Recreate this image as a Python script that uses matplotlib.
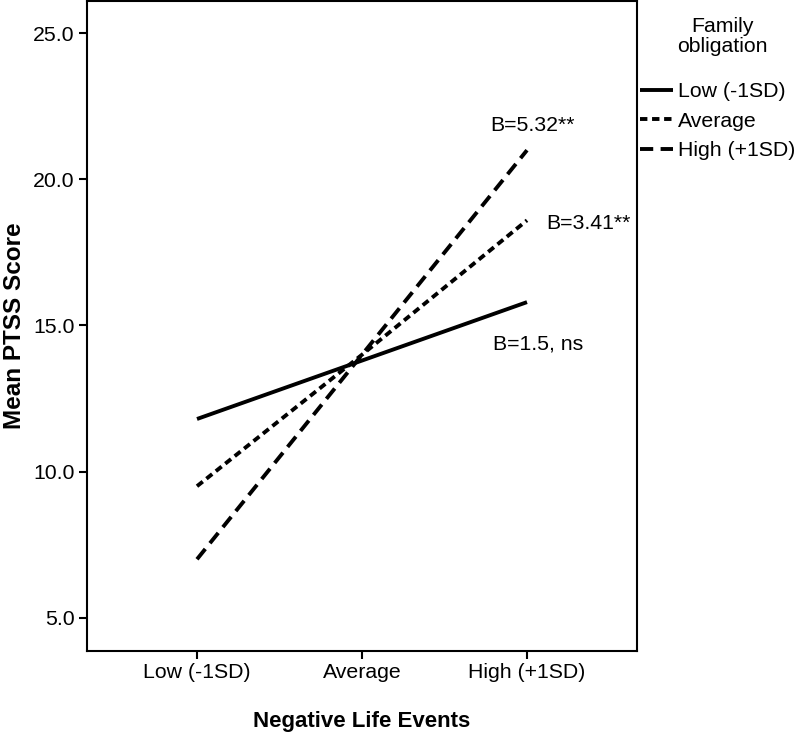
import matplotlib
matplotlib.use("Agg")
import matplotlib.pyplot as plt

plt.rcParams['font.family'] = ['Liberation Sans', 'DejaVu Sans']

categories = ["Low (-1SD)", "Average", "High (+1SD)"]
series_names = ["Low (-1SD)", "Average", "High (+1SD)"]
low_fo = [11.8, 13.8, 15.8]
avg_fo = [9.5, 14.0, 18.6]
high_fo = [7.0, 14.0, 21.0]
annotations = ["B=1.5, ns", "B=3.41**", "B=5.32**"]
yticks = [5.0, 10.0, 15.0, 20.0, 25.0]

fig = plt.figure(figsize=(8.0, 7.34), dpi=100)
ax = fig.add_axes([0.10875, 0.1135, 0.6875, 0.8845])

x = list(range(len(categories)))
lw = 2.8
ax.plot(x, low_fo, color='black', lw=lw, linestyle='-', label=series_names[0],
        solid_capstyle='butt')
ax.plot(x, avg_fo, color='black', lw=lw, linestyle=(0, (1.9, 1.2)), label=series_names[1],
        dash_capstyle='butt')
ax.plot(x, high_fo, color='black', lw=lw, linestyle=(0, (3.4, 1.9)), label=series_names[2],
        dash_capstyle='butt')

fs = 15.3
ax.text(2.068, 14.35, annotations[0], ha='center', va='center', fontsize=fs)
ax.text(2.37, 18.5, annotations[1], ha='center', va='center', fontsize=fs)
ax.text(2.031, 21.86, annotations[2], ha='center', va='center', fontsize=fs)

ax.set_xlim(-2/3, 2 + 2/3)
ax.set_ylim(3.87, 26.09)
ax.set_xticks(x)
ax.set_xticklabels(categories, fontsize=fs)
ax.set_yticks(yticks)
ax.set_yticklabels([f"{v:.1f}" for v in yticks], fontsize=fs)
ax.tick_params(direction='out', length=6, width=1.5, pad=3, colors='black')
for s in ax.spines.values():
    s.set_linewidth(1.5)
    s.set_color('black')

ax.set_xlabel("Negative Life Events", fontsize=16, fontweight='bold')
ax.xaxis.set_label_coords(0.5, -0.109)
ax.xaxis.label.set_va('center')
ax.set_ylabel("Mean PTSS Score", fontsize=17.5, fontweight='bold')
ax.yaxis.set_label_coords(-0.131, 0.5)
ax.yaxis.label.set_va('center')

fig.text(722 / 800, 1 - 36.5 / 734, "Family\nobligation", ha='center', va='center',
         fontsize=fs, linespacing=1.08)

leg = ax.legend(loc='upper left', bbox_to_anchor=(0.7995, 0.888), bbox_transform=fig.transFigure,
                frameon=False, fontsize=fs,
                handlelength=1.55, handletextpad=0.25, labelspacing=0.5, borderpad=0.0,
                borderaxespad=0)

fig.savefig("out.png", dpi=100)
